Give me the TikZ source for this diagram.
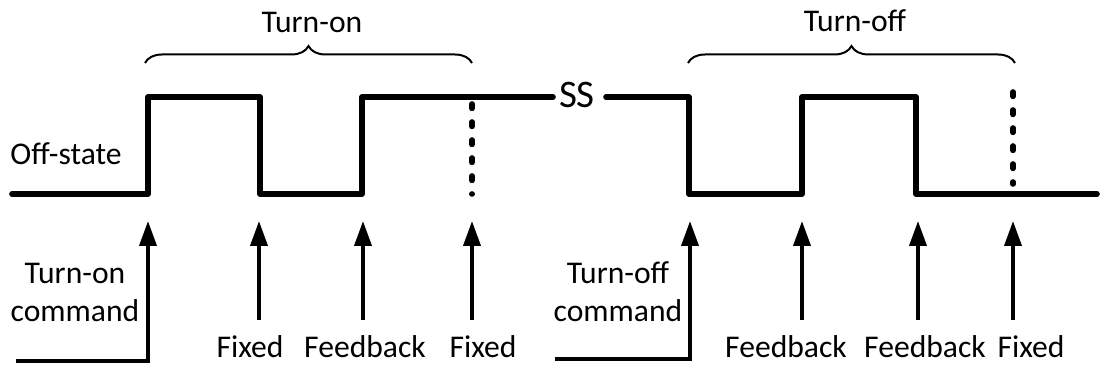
\documentclass[tikz,border=0pt]{standalone}
\usepackage{fontspec}
\setmainfont{Carlito}
\usetikzlibrary{arrows.meta,decorations.pathreplacing}
\begin{document}
\begin{tikzpicture}[x=0.5pt,y=-0.5pt,
  lbl/.style={inner sep=0pt,font=\fontsize{15.8pt}{19pt}\selectfont},
  bigl/.style={inner sep=0pt,font=\fontsize{19.5pt}{23pt}\selectfont},
  wave/.style={line width=2.8pt,line join=round,line cap=round},
  marker/.style={line width=2.8pt,line cap=round,dash pattern=on 2.2pt off 6.8pt},
  trig/.style={line width=1.9pt,-{Triangle[length=12.5pt,width=8.5pt]}},
  span/.style={line width=1pt,decorate,decoration={brace,amplitude=8.5pt}}]
\useasboundingbox (0,0) rectangle (1100,367);

% level signal, on part and off part
\coordinate (w0) at (12,194);
\coordinate (w1) at (148,194);
\coordinate (w2) at (148,97);
\coordinate (w3) at (260,97);
\coordinate (w4) at (260,194);
\coordinate (w5) at (362,194);
\coordinate (w6) at (362,97);
\coordinate (w7) at (553,97);
\node[bigl] (ss) at (577,95) {SS};
\coordinate (v0) at (606,97);
\coordinate (v1) at (689,97);
\coordinate (v2) at (689,194);
\coordinate (v3) at (802,194);
\coordinate (v4) at (802,97);
\coordinate (v5) at (916,97);
\coordinate (v6) at (916,194);
\coordinate (v7) at (1097,194);
\draw[wave] (w0) -- (w1) -- (w2) -- (w3) -- (w4) -- (w5) -- (w6) -- (w7);
\draw[wave] (v0) -- (v1) -- (v2) -- (v3) -- (v4) -- (v5) -- (v6) -- (v7);

% end-of-interval markers
\coordinate (d1a) at (472,104);
\coordinate (d1b) at (472,194);
\coordinate (d2a) at (1013,92);
\coordinate (d2b) at (1013,184);
\draw[marker] (d1a) -- (d1b);
\draw[marker] (d2a) -- (d2b);

% interval braces
\coordinate (b1a) at (145,63);
\coordinate (b1b) at (472,63);
\coordinate (b2a) at (688,63);
\coordinate (b2b) at (1015,63);
\draw[span] (b1a) -- (b1b);
\draw[span] (b2a) -- (b2b);
\node[lbl,anchor=base] (ton) at (312,33) {Turn-on};
\node[lbl,anchor=base] (toff) at (855,32) {Turn-off};
\node[lbl,anchor=base west] (offs) at (10,165) {Off-state};

% command arrows
\coordinate (c1) at (16,361);
\coordinate (t1) at (148,221);
\coordinate (c2) at (555,359);
\coordinate (t5) at (690,221);
\draw[trig] (c1) -| (t1);
\draw[trig] (c2) -| (t5);
\node[lbl,align=center] (oncmd) at (75,292) {Turn-on\\command};
\node[lbl,align=center] (offcmd) at (618,292) {Turn-off\\command};

% event arrows
\foreach \n/\x in {2/259,3/363,4/472,6/802,7/918,8/1013}{
  \coordinate (s\n) at (\x,320);
  \coordinate (t\n) at (\x,221);
  \draw[trig] (s\n) -- (t\n);
}
\node[lbl,anchor=base] (l2) at (250,358) {Fixed};
\node[lbl,anchor=base] (l3) at (365,358) {Feedback};
\node[lbl,anchor=base] (l4) at (483,358) {Fixed};
\node[lbl,anchor=base] (l6) at (786,358) {Feedback};
\node[lbl,anchor=base] (l7) at (925,358) {Feedback};
\node[lbl,anchor=base] (l8) at (1031,358) {Fixed};
\end{tikzpicture}
\end{document}
